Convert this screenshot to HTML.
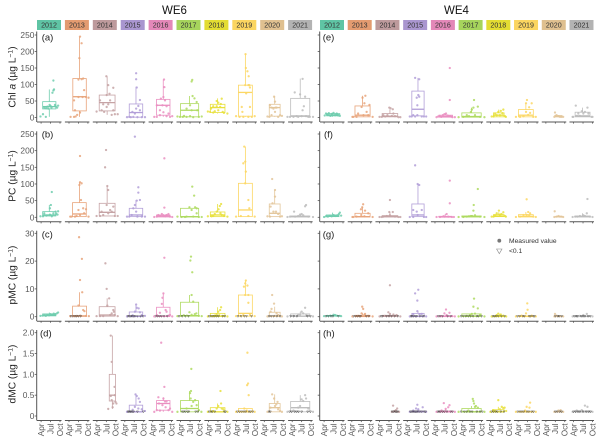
<!DOCTYPE html>
<html>
<head>
<meta charset="utf-8">
<style>
html,body{margin:0;padding:0;background:#fff;}
svg{display:block;font-family:"Liberation Sans",sans-serif;}
</style>
</head>
<body>
<svg id="chart" width="600" height="440" viewBox="0 0 600 440" xmlns="http://www.w3.org/2000/svg">
  <rect width="600" height="440" fill="#fff"/>
  <text x="174.5" y="14" font-size="11.5" text-anchor="middle" fill="#111">WE6</text>
  <text x="456.5" y="14" font-size="11.5" text-anchor="middle" fill="#111">WE4</text>
  <text transform="translate(15.5,77) rotate(-90)" font-size="10.2" text-anchor="middle" fill="#222">Chl <tspan font-style="italic">a</tspan> (µg L<tspan dy="-3" font-size="6.8">−1</tspan><tspan dy="3">)</tspan></text>
  <text transform="translate(15.5,176) rotate(-90)" font-size="10.2" text-anchor="middle" fill="#222">PC (µg L<tspan dy="-3" font-size="6.8">−1</tspan><tspan dy="3">)</tspan></text>
  <text transform="translate(15.5,275) rotate(-90)" font-size="10.2" text-anchor="middle" fill="#222">pMC (µg L<tspan dy="-3" font-size="6.8">−1</tspan><tspan dy="3">)</tspan></text>
  <text transform="translate(15.5,374) rotate(-90)" font-size="10.2" text-anchor="middle" fill="#222">dMC (µg L<tspan dy="-3" font-size="6.8">−1</tspan><tspan dy="3">)</tspan></text>
  <g id="marks"></g>
  <circle cx="499.3" cy="240.7" r="1.9" fill="#777"/>
  <text x="509" y="243.2" font-size="6.7" fill="#333">Measured value</text>
  <path d="M496.6 249 h5.4 l-2.7 4.6 z" fill="none" stroke="#888" stroke-width="0.6"/>
  <text x="509" y="253.2" font-size="6.7" fill="#333">&lt;0.1</text>
</svg>
<script>
const years = ['2012','2013','2014','2015','2016','2017','2018','2019','2020','2021'];
const stripColors = ['#5fc4a4','#e39b70','#bd9a9c','#a996cf','#e388b8','#a6d45c','#e3dc32','#fbd560','#dfc090','#b3b3b3'];
const markColors = ['#6fcdae','#e8a47b','#c6a3a5','#b29fd8','#ea8fc1','#aeda60','#e8e03c','#fcd764','#e3c69a','#bdbdbd'];
const monthTicks = [4,7,10];
const monthLabels = ['Apr','Jul','Oct'];
const chlTicks = [0,50,100,150,200,250];
const pcTicks = [0,50,100,150,200,250];
const pmcTicks = [0,10,20,30];
const dmcTicks = [0,0.5,1,1.5,2];
const dmcTickLabels = ['0','0.5','1.0','1.5','2.0'];

const pointsA = [
[3.8,3,5.5,2,4.6,10,5,30,5.6,28,6,33,6.3,27,6.7,38,7,35,7.3,30,7.6,75,7.9,82,8.1,85,7.9,112,8.4,38,8.7,33,9.1,30,9.4,36],
[4.5,2,5.6,2,6.6,8,6.1,3,7.5,245,8,225,7.3,180,7,115,8,116,8.5,118,5.9,22,5.6,52,7,62,8.3,62,9.4,62,7.5,15,8.8,83,10.2,60],
[3.9,18,7,125,9.2,90,7.6,98,7.1,68,8,72,5,52,5.5,22,6.3,17,7.1,32,8.7,8,9.7,10,8.2,52,6,40,9.2,22,7.6,40,10.6,10],
[4.7,1,7.6,134,7.6,116,7.8,91,5.9,1,6.7,2,8,1,9.4,1,8.8,22,8.3,35,7.2,12,6.4,17,7.6,27,8.8,53,10.4,1,5.4,2],
[4.5,2,7.6,115,7.7,92,7.4,62,5.3,2,5.3,37,6.3,7,7.9,52,8.4,4,9,12,9.5,2,7.1,37,6.3,22,8.4,34,7.4,16,6.6,57,10.2,4],
[3,3,3.8,2,4.7,2,5.9,2,7,4,7.7,114,7.5,109,7.8,65,8.4,58,9.1,47,9.3,22,7.5,22,5.9,27,8,1,9.8,2,7,37,5.1,5,10.7,3],
[3.8,18,8.2,57,6.6,50,7.1,45,5.5,34,4.8,27,7.7,32,8.9,14,6,19,8.5,17,4.5,17,7.1,22,6.6,34,5.5,15,7.9,41,10,12],
[3.9,4,6.9,192,7,150,7.5,140,7.9,125,7.8,98,6.8,98,8.3,91,7.1,73,5.7,32,8.3,32,5,2,6.2,2,7.8,2,8.9,2,5.9,17,8.1,98,9.8,4],
[5,3,7.1,63,7.4,48,5.8,37,6.3,30,7.9,30,7.4,17,6.3,7,8.4,2,5.6,2,9,7,6.9,27,7.6,30,9.6,5],
[2.5,2,7.3,117,4.8,76,6.5,70,8.1,63,7.7,34,7.3,22,3.3,2,4.4,2,5.9,2,7,4,9.1,2,8.4,4,5.4,4,9.6,2,10.6,2]
];
const pointsB = [
[3.8,3,7.4,76,7.1,37,6.8,27,8.6,17,8.8,11,4.6,3,5.7,5,6.8,8,5,12,7.9,12,7.4,3,9.2,8,9.4,18],
[4.4,2,7.5,184,7.5,105,8,102,7.3,97,7.8,52,7,22,8.5,27,9.4,24,5.9,2,4.8,2,6.4,4,7.5,7,8.8,12,10.2,2],
[3.9,4,6.9,202,6.6,150,7.3,94,7.6,82,9.2,32,8.7,17,7.1,37,5,4,6,7,9.7,4,7.6,12,8.2,22,5.5,17,10.6,4],
[4.7,2,7.2,242,8.3,90,8.3,74,8.8,52,7.2,37,6.7,27,7.6,17,6.2,7,5.4,2,8,2,9.4,2,7.8,50,10.4,2],
[4.5,1,7.7,177,7.7,29,5.8,7,6.9,10,8.4,7,9,10,5.3,2,9.5,2,7.4,4,6.3,4,8,3,10.2,1],
[3,2,7.7,92,8.3,65,6.8,30,8.6,30,9.1,27,7.5,22,9.1,12,5.9,2,4.3,1,5.4,1,9.8,1,8,2,10.7,1],
[3.8,3,8,40,7.6,34,7.2,24,6.6,17,5.5,4,6,10,8.2,7,8.9,4,5,3,7.8,12,10,2],
[3.9,2,6.5,212,6.8,167,6.2,162,7,137,6.8,102,7.8,52,8.1,27,5.4,4,7.8,4,9.8,2],
[5,3,6.5,115,7.4,82,7.4,62,6,32,6.9,17,7.7,17,8.4,10,5.8,2,9,2,6.6,42,9.6,3],
[2.5,1,4.6,17,8.4,37,8.1,33,7,10,5.9,4,4.9,2,3.3,2,9.1,2,7.5,6,6.5,8,10.6,1]
];
const pointsC = [
[3.8,.3,4.5,.4,5,.5,5.5,.3,6,.7,6.5,.5,7,.9,7.5,.8,8,1.1,8.5,.9,9,1.2,9.4,1.5],
[4.4,.2,7.2,28.6,8.1,20.8,7.5,13.2,8.2,8.8,7,4,8.5,2.4,8.9,2,5.5,.2,6.5,.3,7.6,.4,9.4,.3,10.3,.2],
[3.9,.2,6.7,19.2,7.1,10,7.9,6.6,7.3,4,9.2,2.4,8.7,1.2,9.4,1.8,6,.2,9.7,.6,8.2,.6,5,.2,10.6,.2],
[4.7,.1,7.6,4.4,7.8,3.2,8.4,3,7.2,1.8,8.8,1.6,9.4,.6,10.4,.3,6.5,.5],
[4.5,.1,7.7,21.2,7.4,8.4,7.1,6.8,6.9,4.6,8.1,2.4,6.3,1.4,8.4,1.8,5.3,.6,9.5,.6,9,.4,10.2,.1],
[3,.2,7.3,21.6,7.1,20.2,7.7,16,7.5,7.8,8,5.4,6.8,1.6,9,1.2,4,.3,5,.5,6,.4,7.5,.7,8.5,.9,9.8,.3,10.7,.2],
[3.8,.1,8,3.4,7.7,2.4,7.1,1.8,6.6,.8,6,.4,5.5,.2,7.4,.5,8.5,.3,10,.1],
[3.9,.2,7,13,6.8,12,7.5,11.2,6.4,10.8,7.8,7.8,6.8,7.8,7.8,5,6.2,.6,5.2,.3,8.3,.6,9.8,.2],
[5,.1,6.5,7.8,7.1,4.7,6.3,2.8,6,1.8,7.9,1.2,8.4,.6,7.4,.3,9.6,.1],
[2.5,.1,8.1,3.2,7,1.8,7.5,1.2,5.9,.8,4.4,.3,9.1,.3,10.6,.1,6.5,.7,8.5,.6]
];
const pointsD = [
[],
[],
[7.6,.17,8.4,1.93,8.7,1.3,9.6,.7,9,.21,9.9,.34,9.2,.3,8.7,.38,9.7,.5,8.4,.48,10.2,.3],
[4.7,.1,7.4,.52,7.8,.48,8.4,.42,8.8,.34,7.2,.22,8.3,.18,9.4,.16,6.5,.15,10.4,.12],
[4.5,.1,6.7,1.76,7.7,.7,5.8,.45,7.4,.42,7.9,.35,8.4,.35,5.3,.14,6.3,.13,9,.14,7.1,.26,9.5,.18,8.1,.21,6,.3,10.2,.1],
[3,.1,7.4,1.13,7.3,.6,7,.55,7.2,.42,8.6,.38,8,.34,9.1,.26,5.9,.18,7.5,.24,9.8,.14,10.6,.1],
[3.8,.1,7.8,.6,8,.3,7.1,.24,6.6,.18,8.2,.18,5.5,.12,8.7,.16,10,.1],
[3.9,.1,7.5,1.52,7.7,.78,7.4,.74,7.9,.5,6.5,.18,7.3,.13,9.8,.1],
[5,.1,6.5,.52,7.1,.42,8.2,.34,6,.2,7.4,.24,8.4,.16,9,.12,7.8,.28,9.6,.1],
[2.5,.1,8.1,.5,7,.4,7.5,.36,8.4,.42,5.9,.2,4.4,.13,9.1,.18,10.6,.1,6.5,.24]
];
const pointsE = [
[4.2,6,4.6,12,5,8,5.5,13,6,5,6.5,11,7,14,7.5,7,8,12,8.5,6,8.8,10,9,5],
[4.2,2,8.3,66,7.4,60,8,43,9.6,38,7.1,32,6,12,9.2,7,4.5,2,5.5,2,7.7,7,8.7,17,10.6,2],
[4,2,7.1,30,8.2,25,7.5,28,8.4,12,5.2,7,4.7,2,10,1,6.5,7,8.9,4,7.9,5,5.8,3,10.6,1],
[4.8,3,6.5,120,7.8,116,7.5,68,7.8,63,7,60,7.2,37,5.4,3,6.5,3,8.6,3,9.3,3,7.2,7,5.9,7,10,3],
[4.5,1,8.7,150,8.7,53,5,3,5.5,5,6,2,6.5,7,7,10,7.5,12,8,6,8.5,4,9,3,9.5,1,10.3,1],
[2.7,1,7.6,53,8.8,33,7.4,30,6.6,17,6.9,24,5.3,7,4.2,2,9.5,2,7.9,7,6,4,10.9,1],
[4.4,3,8.1,24,7.3,20,6.5,17,5.5,12,6,7,5,3,8.6,4,7,7,7.8,13,8.9,2],
[3.3,2,6.8,53,6.5,43,8.3,43,7.5,31,6.5,17,7.8,14,4.6,2,8.8,2,5.7,4,9.6,2,7.2,8],
[6.7,2,6.9,15,7.4,7,8,4,8.5,2,9,2,7,5,9.5,2],
[3.7,2,4.7,36,8.4,30,6.6,19,7.6,17,5.5,12,3.9,2,9.7,2,7.1,12,8.7,12,10,2,6,5,5,5]
];
const pointsF = [
[4,1,4.6,3,5.2,2,5.8,5,6.4,3,7,7,7.6,4,8.2,6,8.7,10,9,14,9.4,5],
[4.2,1,7.6,39,7.3,30,8.2,20,6.9,24,9.2,12,5.5,2,4.5,1,7,7,8,3,10.6,1],
[4,1,7.3,52,7.1,16,8.2,16,5.2,2,6.3,4,8.9,2,7.3,6,4.7,1,10,1,10.6,1],
[4.8,1,6.5,156,7.3,100,7.8,97,5.9,22,8.6,22,7.3,7,5.9,1,9.3,1,7,17,10,1],
[4.5,1,8.7,110,8.7,42,7.7,10,6.7,3,5.6,1,9.4,1,8.2,2,7,2,10,1],
[2.7,1,8.8,85,7.5,37,7.4,20,6.6,4,5.3,2,4.2,1,9.5,2,7.9,6,6,3,7,4,10.9,1],
[4.4,2,6.7,20,8.1,15,6,12,5.5,6,5,2,7,8,8.6,4,7.5,10,8.9,2],
[3.3,1,6.7,54,7.2,16,7.8,12,5.7,7,4.6,2,8.8,2,6.7,7,9.6,1,7.5,6],
[6.7,1,6.8,18,8,4,8.5,2,9,2,7.4,2,9.5,1],
[3.7,1,8.4,55,8.2,12,7.1,6,6,4,4.5,2,9.2,2,10,1,7.6,4,5.2,2]
];
const pointsG = [
[4,.2,5,.3,6,.4,7,.7,7.5,.6,8,.4,9,.3,9.4,.2],
[4.2,.1,7.3,3.6,7.6,2.8,7.1,1.2,8.2,1,9.2,.3,6,.3,10.6,.1,8,.7],
[4,.1,7.3,11.3,6.8,1.6,7.3,1,8.4,.8,9.4,.6,5.7,.3,10.6,.1],
[4.8,.1,7.5,9.7,6.5,8.4,7.2,5.8,7.2,2,5.9,.8,8.6,1,10,.1,7.9,.9],
[4.5,.1,7.5,2.6,7,1.2,8.6,1.4,7.7,.6,6.1,.2,9.5,.2,10.3,.1],
[2.7,.1,7.6,6.5,7.4,3.6,8.8,3,7.9,1.1,6.9,1,5.3,.3,9.5,.6,10.9,.1,6.3,.6],
[4.4,.1,6.5,1.1,7.3,.8,6,.6,8.1,.4,9,.1,7,.5],
[3.3,.1,6.9,4.8,7,2.5,6.5,1.2,5.1,.4,8.3,.4,9.6,.1],
[6.7,.1,6.9,1,7.4,.4,8.5,.2,9.5,.1],
[3.7,.1,8.2,1,7.1,.6,5.5,.2,10,.1,6,.3]
];
const pointsH = [
[],
[],
[7.9,.1,8.3,.25,9.6,.18,9.2,.14,8.7,.12,10.2,.1],
[4.8,.1,7.2,.27,6.8,.18,8.9,.21,7.5,.16,5.9,.13,10,.1],
[4.5,.1,6.8,.31,8.6,.26,8.2,.21,7.4,.17,6.1,.13,10.3,.1],
[2.7,.1,7.2,.41,7.4,.36,7.6,.3,8.2,.24,8.8,.2,5.8,.13,10.9,.1,7.9,.22],
[4,.1,6.5,.38,7.6,.22,8.1,.19,7,.16,5.4,.13,4.9,.14,8.5,.2,9,.12],
[3.3,.1,7.8,.32,6.7,.22,7.6,.2,6.2,.13,9.6,.1],
[6.7,.1,8.7,.14,8,.13,9.5,.1],
[3.7,.1,7.6,.25,8.4,.22,6.6,.14,5,.13,10,.1]
];

const boxA = [[2,26,33,48,85],[2,20,63,118,245],[8,20,45,68,125],[1,1,15,41,93],[2,7,37,55,115],[1,2,22,42,65],[12,15,30,40,58],[2,4,76,98,192],[2,4,30,40,65],[2,3,5,58,118]];
const boxB = [[3,4,7,17,37],[2,2,10,44,105],[4,4,15,42,94],[1,2,7,27,52],[1,1,4,7,10],[1,1,2,27,30],[2,2,7,16,40],[2,2,22,102,212],[2,2,12,40,82],[1,1,2,4,8]];
const boxC = [[.2,.3,.6,1,1.5],[.1,.1,.3,3.8,8.8],[.2,.2,.6,3.6,6.6],[.1,.1,.1,1.7,4.4],[.1,.1,.2,3.4,8.4],[.2,.2,.4,5.2,7.8],[.1,.1,.2,1.2,3.4],[.2,.2,1.2,7.8,13],[.1,.1,.2,1.6,3.6],[.1,.1,.2,1,1.8]];
const boxD = [null,null,[.17,.36,.5,1,1.93],[.1,.1,.1,.26,.52],[.1,.14,.3,.37,.45],[.1,.1,.18,.37,.6],[.1,.1,.1,.2,.3],[.1,.1,.1,.18,.18],[.1,.1,.2,.3,.52],[.1,.1,.2,.35,.5]];
const boxE = [[2,5,8,12,14],[2,2,7,35,66],[1,2,4,12,25],[3,5,25,80,120],[1,1,3,7,12],[1,1,3,14,30],[2,2,7,14,24],[2,2,7,24,43],[2,2,3,6,7],[2,2,5,16,30]];
const boxF = [[1,2,4,7,14],[1,1,2,12,30],[1,1,2,5,16],[1,2,7,40,100],[1,1,1,3,10],[1,1,2,4,6],[2,2,4,8,15],[1,1,3,8,16],[1,1,2,2,4],[1,1,2,4,12]];
const boxG = [[.2,.2,.3,.4,.7],[.1,.1,.1,.5,1.2],[.1,.1,.2,.5,1],[.1,.1,.1,1.2,2],[.1,.1,.1,.3,.6],[.1,.1,.2,1,1.1],[.1,.1,.1,.3,.6],[.1,.1,.1,.3,.4],[.1,.1,.1,.2,.4],[.1,.1,.1,.2,.3]];
const boxH = [null,null,[.1,.1,.1,.1,.1],[.1,.1,.1,.12,.18],[.1,.1,.1,.12,.17],[.1,.1,.1,.18,.24],[.1,.1,.1,.15,.22],[.1,.1,.1,.1,.13],[.1,.1,.1,.1,.1],[.1,.1,.1,.12,.14]];

const censC = [[],[4.6,5.2,5.9,6.4,7,7.7],[],[5,5.4,5.9,6.3,6.8,7.2,8,9,9.8],[5,5.6,6.2,6.8,7.6,8.6],[3.5,4.5,5.5,6.5],[4.2,4.8,5.4,6,6.6,7.2,8.5,9.2],[4.5,5.5,6.5,7.2,8.8],[5.5,6.2,7,8,9],[3.5,4.5,5.5,8.8,9.8]];
const censD = [[],[],[],[5,5.3,5.7,6,6.4,6.8,8,9.9],[],[4.5,5,5.5,6.2,6.6,8.8,9.5],[4.2,4.8,5.2,6,9,9.4],[4.3,5,5.7,6.4,7,8,8.5,9.2],[5.5,5.9],[3.2,3.8,4.8,5.4,6,7,8.9,9.8]];
const censG = [[4.6,5.4,6.2,6.8,8.5],[4.6,5.2,5.8,6.4,6.8,8.6,9.4],[4.5,5,6.2,7,7.8,8.8,9.8],[5.2,5.5,6,6.6,7,8,8.8,9.3],[5,5.6,6.4,8,9],[3.5,4.2,5,5.8,6.5,7.3,8.5,9,10],[4.8,5.3,5.8,6.5,7.5,8.5],[3.8,4.5,5.5,6,7.5,8,8.8,9.2],[7,7.8,8.2,9],[4.2,4.8,5.2,6.4,7,7.6,8.6,9.3]];
const censH = [[],[],[8,8.5,9,9.4,9.8],[5,5.4,5.8,6.2,6.6,7,7.4,8,8.6,9.4,9.8],[4.9,5.3,5.7,6.4,7,7.8,9,9.6],[3.5,4.5,5.3,6.3,7,8.5,9.5,10.2],[4.4,5,5.7,6.2,7.3,8.3],[3.9,4.6,5.2,5.8,6.8,7.4,8.3,8.9],[7,7.6,8.4,9],[4,4.6,5.4,6,7,8,8.8,9.4]];

const NS = 'http://www.w3.org/2000/svg';
const root = document.getElementById('marks');

function mk(tag, attrs, parent) {
  const el = document.createElementNS(NS, tag);
  for (const k in attrs) el.setAttribute(k, attrs[k]);
  (parent || root).appendChild(el);
  return el;
}

const siteX = [
  { left: 37, pitch: 27.9 },
  { left: 320, pitch: 27.72 }
];
const rowAxes = [
  { zero: 117.5, k: 82.5 / 250, ticks: chlTicks, labels: chlTicks },
  { zero: 217.3, k: 83.3 / 250, ticks: pcTicks, labels: pcTicks },
  { zero: 316.7, k: 83.4 / 30, ticks: pmcTicks, labels: pmcTicks },
  { zero: 416, k: 83.3 / 2, ticks: dmcTicks, labels: dmcTickLabels }
];
function panelLeft(site, yearIdx) { return siteX[site].left + siteX[site].pitch * yearIdx; }
function xScale(site, yearIdx, month) { return panelLeft(site, yearIdx) + 4.1 + (month - 4) * 3.15; }
function yScale(row, v) { return rowAxes[row].zero - v * rowAxes[row].k; }

const panels = [
  { name: 'a', site: 0, row: 0, pts: pointsA, box: boxA, cens: null, tx: 41.7, ty: 40.7 },
  { name: 'b', site: 0, row: 1, pts: pointsB, box: boxB, cens: null, tx: 41.7, ty: 137.5 },
  { name: 'c', site: 0, row: 2, pts: pointsC, box: boxC, cens: censC, tx: 41.7, ty: 237.3 },
  { name: 'd', site: 0, row: 3, pts: pointsD, box: boxD, cens: censD, tx: 40, ty: 336.7 },
  { name: 'e', site: 1, row: 0, pts: pointsE, box: boxE, cens: null, tx: 322.7, ty: 40.7 },
  { name: 'f', site: 1, row: 1, pts: pointsF, box: boxF, cens: null, tx: 324, ty: 137.5 },
  { name: 'g', site: 1, row: 2, pts: pointsG, box: boxG, cens: censG, tx: 322.7, ty: 237.3 },
  { name: 'h', site: 1, row: 3, pts: pointsH, box: boxH, cens: censH, tx: 323, ty: 336.7 }
];

// year strips
[0, 1].forEach(function (site) {
  years.forEach(function (yr, i) {
    const x = panelLeft(site, i);
    const strip = mk('rect', { x: x, y: 20, width: 24, height: 10, fill: stripColors[i] });
    
    
    const lab = mk('text', { x: x + 12, y: 27.6, 'font-size': 7.1, 'text-anchor': 'middle', fill: '#333' });
    
    
    lab.textContent = yr;
  });
});

panels.forEach(function (p) {
  const ax = rowAxes[p.row];
  const axisColor = '#555';
  const baseY = ax.zero + 4.5;

  // y axis
  const left = panelLeft(p.site, 0);
  const yLine = mk('line', { x1: left - 0.3, x2: left - 0.3, y1: ax.zero - 86, y2: baseY, stroke: axisColor, 'stroke-width': 1 });
  
  
  ax.ticks.forEach(function (t, ti) {
    const y = yScale(p.row, t);
    const tick = mk('line', { x1: left - 2.3, x2: left - 0.3, y1: y, y2: y, stroke: axisColor, 'stroke-width': 0.8 });
    
    
    if (p.site === 0) {
      const lab = mk('text', { x: left - 2.6, y: y + 3, 'font-size': 8.4, 'text-anchor': 'end', fill: '#585858' });
      
      
      lab.textContent = ax.labels[ti];
    }
  });

  // panel tag
  const tag = mk('text', { x: p.tx, y: p.ty, 'font-size': 9.5, fill: '#222' });
  
  
  tag.textContent = '(' + p.name + ')';

  years.forEach(function (yr, i) {
    const pl = panelLeft(p.site, i);
    // x axis
    const xLine = mk('line', { x1: pl, x2: pl + 24.5, y1: baseY, y2: baseY, stroke: axisColor, 'stroke-width': 1 });
    
    
    monthTicks.forEach(function (m, mi) {
      const tx = xScale(p.site, i, m);
      const tick = mk('line', { x1: tx, x2: tx, y1: baseY, y2: baseY + 1.6, stroke: axisColor, 'stroke-width': 0.8 });
      
      
      if (p.row === 3) {
        const lab = mk('text', { transform: 'translate(' + (tx + 2.9) + ',' + (baseY + 3) + ') rotate(-90)', 'font-size': 8.2, 'text-anchor': 'end', fill: '#585858' });
        
        
        lab.textContent = monthLabels[mi];
      }
    });

    const flat = p.pts[i];
    const color = markColors[i];
    const months = [];
    for (let k = 0; k < flat.length; k += 2) months.push(flat[k]);
    const stats = p.box[i];

    // box
    if (stats && months.length) {
      const lo = Math.min.apply(null, months);
      const hi = Math.max.apply(null, months);
      const cx = xScale(p.site, i, (lo + hi) / 2);
      const w = 0.75 * (xScale(p.site, i, hi) - xScale(p.site, i, lo));
      const yQ1 = yScale(p.row, stats[1]);
      const yQ3 = yScale(p.row, stats[3]);
      const yMed = yScale(p.row, stats[2]);
      const wL = mk('line', { x1: cx, x2: cx, y1: yScale(p.row, stats[0]), y2: yQ1, stroke: color, 'stroke-width': 0.8 });
      
      
      const wH = mk('line', { x1: cx, x2: cx, y1: yScale(p.row, stats[4]), y2: yQ3, stroke: color, 'stroke-width': 0.8 });
      
      
      const rect = mk('rect', { x: cx - w / 2, y: yQ3, width: w, height: Math.max(0.2, yQ1 - yQ3), fill: 'none', stroke: color, 'stroke-width': 0.8 });
      
      
      const med = mk('line', { x1: cx - w / 2, x2: cx + w / 2, y1: yMed, y2: yMed, stroke: color, 'stroke-width': 1.3 });
      
      
    }

    // measured points
    for (let k = 0; k < flat.length; k += 2) {
      const pt = mk('circle', { cx: xScale(p.site, i, flat[k]), cy: yScale(p.row, flat[k + 1]), r: 1.15, fill: color, 'fill-opacity': 0.85 });
      
      
    }

    // censored (<0.1) triangles
    if (p.cens) {
      p.cens[i].forEach(function (m) {
        const cx = xScale(p.site, i, m);
        const cy = yScale(p.row, 0.1);
        const tri = mk('path', { d: 'M' + (cx - 1) + ' ' + (cy - 0.9) + 'h2l-1 1.8z', fill: 'none', stroke: '#333', 'stroke-width': 0.5, 'stroke-opacity': 0.75 });
        
        
      });
    }
  });
});
</script>
</body>
</html>
